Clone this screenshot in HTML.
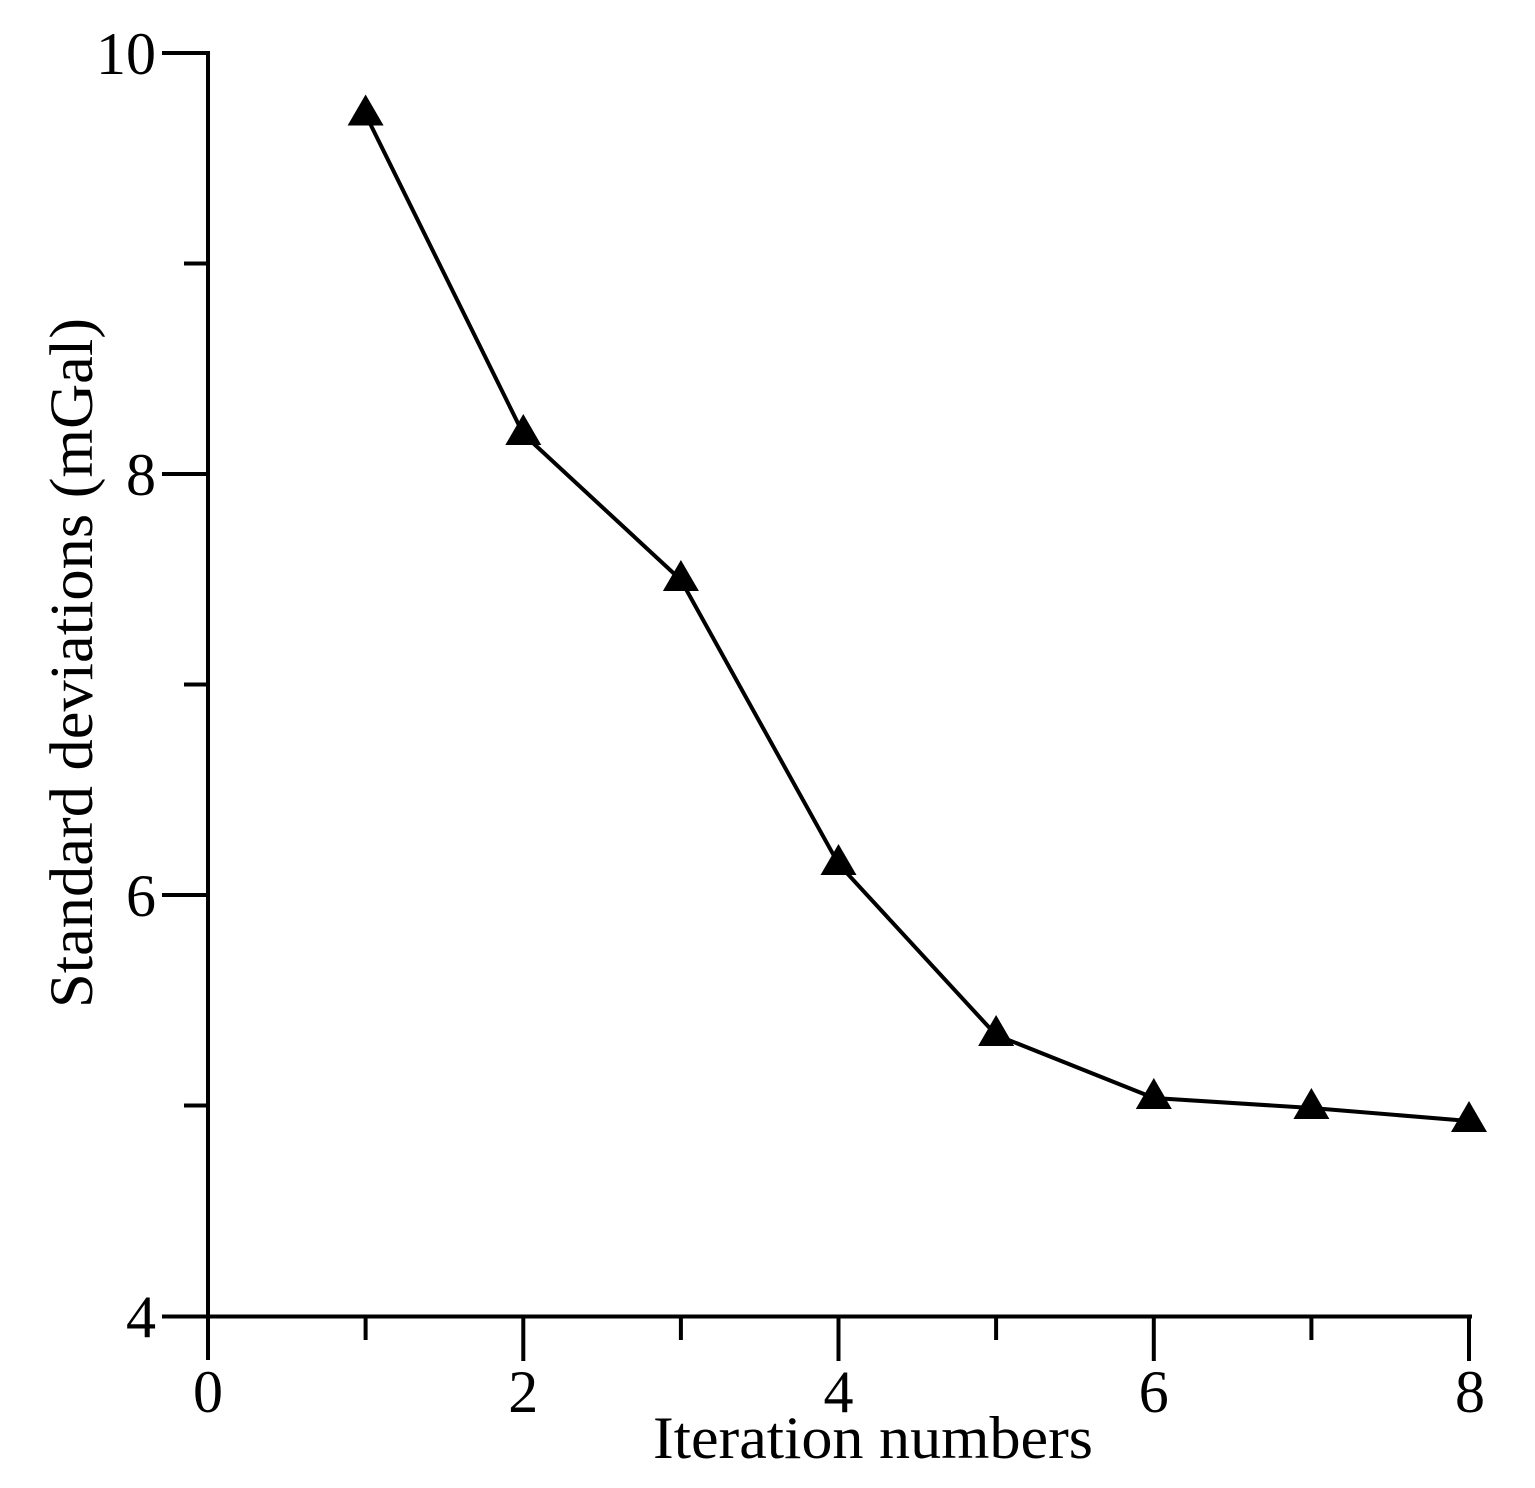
<!DOCTYPE html>
<html>
<head>
<meta charset="utf-8">
<style>
  html, body { margin: 0; padding: 0; background: #fff; }
  svg { display: block; }
  text { font-family: "Liberation Serif", "Times New Roman", serif; fill: #000; }
</style>
</head>
<body>
<svg width="1535" height="1488" viewBox="0 0 1535 1488" xmlns="http://www.w3.org/2000/svg">
  <rect width="1535" height="1488" fill="#fff"/>

  <!-- Axes -->
  <g stroke="#000" stroke-width="4" stroke-linecap="square" fill="none">
    <line x1="208" y1="53" x2="208" y2="1358"/>
    <line x1="164" y1="1316.5" x2="1470" y2="1316.5"/>
    <!-- y ticks -->
    <line x1="164" y1="53" x2="208" y2="53"/>
    <line x1="186" y1="263.5" x2="208" y2="263.5"/>
    <line x1="164" y1="474" x2="208" y2="474"/>
    <line x1="186" y1="684.5" x2="208" y2="684.5"/>
    <line x1="164" y1="895" x2="208" y2="895"/>
    <line x1="186" y1="1105.5" x2="208" y2="1105.5"/>
    <!-- x ticks -->
    <line x1="365.6" y1="1316.5" x2="365.6" y2="1338"/>
    <line x1="523.3" y1="1316.5" x2="523.3" y2="1359"/>
    <line x1="680.9" y1="1316.5" x2="680.9" y2="1338"/>
    <line x1="838.5" y1="1316.5" x2="838.5" y2="1359"/>
    <line x1="996.1" y1="1316.5" x2="996.1" y2="1338"/>
    <line x1="1153.8" y1="1316.5" x2="1153.8" y2="1359"/>
    <line x1="1311.4" y1="1316.5" x2="1311.4" y2="1338"/>
    <line x1="1469" y1="1316.5" x2="1469" y2="1359"/>
  </g>

  <!-- Y tick labels -->
  <g font-size="60" text-anchor="end">
    <text x="156" y="74">10</text>
    <text x="156" y="495">8</text>
    <text x="156" y="916">6</text>
    <text x="156" y="1337">4</text>
  </g>

  <!-- X tick labels -->
  <g font-size="60" text-anchor="middle">
    <text x="208" y="1412">0</text>
    <text x="523.3" y="1412">2</text>
    <text x="838.5" y="1412">4</text>
    <text x="1153.8" y="1412">6</text>
    <text x="1470" y="1412">8</text>
  </g>

  <!-- Axis titles -->
  <text x="653" y="1458" font-size="60" textLength="440" lengthAdjust="spacingAndGlyphs">Iteration numbers</text>
  <text transform="translate(92,1008) rotate(-90)" font-size="61" textLength="690" lengthAdjust="spacingAndGlyphs">Standard deviations (mGal)</text>

  <!-- Data line -->
  <polyline fill="none" stroke="#000" stroke-width="4" stroke-linejoin="miter"
    points="365.6,114.5 523.3,434 680.9,580 838.5,864 996.1,1035 1153.8,1098 1311.4,1108 1469,1121"/>

  <!-- Markers: triangles, apex at y-20, base at y+11 -->
  <g fill="#000">
    <polygon points="365.6,94.5 383.6,125.5 347.6,125.5"/>
    <polygon points="523.3,414 541.3,445 505.3,445"/>
    <polygon points="680.9,560 698.9,591 662.9,591"/>
    <polygon points="838.5,844 856.5,875 820.5,875"/>
    <polygon points="996.1,1015 1014.1,1046 978.1,1046"/>
    <polygon points="1153.8,1078 1171.8,1109 1135.8,1109"/>
    <polygon points="1311.4,1088 1329.4,1119 1293.4,1119"/>
    <polygon points="1469,1101 1487,1132 1451,1132"/>
  </g>
</svg>
</body>
</html>
